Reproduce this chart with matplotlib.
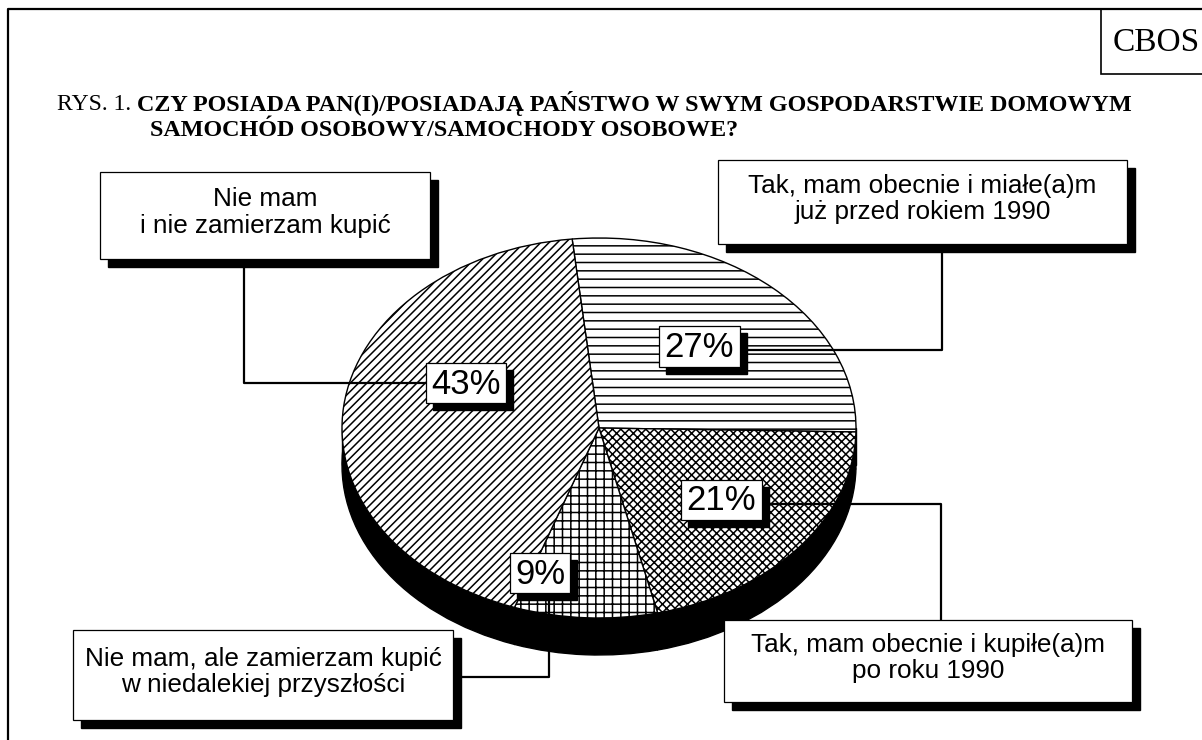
import matplotlib.pyplot as plt
from matplotlib.patches import Rectangle

# dane
answers = ["Tak, mam obecnie i miałe(a)m\njuż przed rokiem 1990",
           "Tak, mam obecnie i kupiłe(a)m\npo roku 1990",
           "Nie mam, ale zamierzam kupić\nw niedalekiej przyszłości",
           "Nie mam\ni nie zamierzam kupić"]
shares = [27, 21, 9, 43]
hatches = ['--', 'xxxx', '++', '////']

title_prefix = "RYS. 1."
title_line1 = "CZY POSIADA PAN(I)/POSIADAJĄ PAŃSTWO W SWYM GOSPODARSTWIE DOMOWYM"
title_line2 = "SAMOCHÓD OSOBOWY/SAMOCHODY OSOBOWE?"

# uklad (piksele): ramki opisow, ramki procentow, linie odniesienia
label_boxes = [(718, 160, 1127, 244), (724, 620, 1132, 702),
               (73, 630, 453, 720), (100, 172, 430, 259)]
pct_boxes = [(659, 326, 740, 367), (681, 480, 762, 520),
             (510, 553, 570, 593), (426, 363, 506, 403)]
leaders = [([942, 942, 740], [250, 350, 350]),
           ([762, 941, 941], [504, 504, 620]),
           ([453, 549, 549], [677, 677, 593]),
           ([244, 244, 426], [259, 383, 383])]

W, H = 1202, 740
fig = plt.figure(figsize=(W / 100, H / 100), dpi=100)
plt.rcParams['hatch.linewidth'] = 1.1

# tort 3D: elipsa
cx, cy, rx, ry = 599, 428, 257, 190
R = 1.2
depth = 37 / ry
ax_pie = fig.add_axes([(cx - R * rx) / W, (H - cy - R * ry) / H,
                       2 * R * rx / W, 2 * R * ry / H])
ax_pie.pie(shares, startangle=96, counterclock=False, colors=['black'] * 4,
           center=(0, -depth), wedgeprops=dict(edgecolor='black', linewidth=1))
ax_pie.add_patch(Rectangle((-1, -depth), 2, depth, color='black'))
wedges, _ = ax_pie.pie(shares, startangle=96, counterclock=False,
                       colors=['white'] * 4,
                       wedgeprops=dict(edgecolor='black', linewidth=1))
for w, h in zip(wedges, hatches):
    w.set_hatch(h)
ax_pie.set_aspect('auto')
ax_pie.set_xlim(-R, R)
ax_pie.set_ylim(-R, R)
ax_pie.axis('off')

# warstwa opisow
ax = fig.add_axes([0, 0, 1, 1])
ax.set_xlim(0, W)
ax.set_ylim(H, 0)
ax.axis('off')
ax.patch.set_alpha(0)

# ramka strony
ax.plot([8, 8, W], [H, 9, 9], color='black', lw=1.6)
ax.add_patch(Rectangle((1101, 9), 110, 65, fc='white', ec='black', lw=1.2))
ax.text(1156, 43, "CBOS", family='Liberation Serif', fontsize=24,
        ha='center', va='center')

ax.text(57, 104, title_prefix, family='Liberation Serif', fontsize=17,
        ha='left', va='center')
ax.text(137, 104, title_line1, family='Liberation Serif', fontsize=17.4,
        weight='bold', ha='left', va='center')
ax.text(150, 130, title_line2, family='Liberation Serif', fontsize=17.4,
        weight='bold', ha='left', va='center')


def shadow_box(x0, y0, x1, y1, off):
    ax.add_patch(Rectangle((x0 + off, y0 + off), x1 - x0, y1 - y0,
                           fc='black', ec='black', zorder=3))
    ax.add_patch(Rectangle((x0, y0), x1 - x0, y1 - y0,
                           fc='white', ec='black', lw=0.9, zorder=4))


for (xs, ys) in leaders:
    ax.plot(xs, ys, color='black', lw=1.6, zorder=2)

for txt, (x0, y0, x1, y1) in zip(answers, label_boxes):
    shadow_box(x0, y0, x1, y1, 8)
    ax.text((x0 + x1) / 2, (y0 + y1) / 2 - 3, txt, family='Liberation Sans',
            fontsize=18.8, ha='center', va='center', linespacing=1.12,
            zorder=5)

for v, (x0, y0, x1, y1) in zip(shares, pct_boxes):
    shadow_box(x0, y0, x1, y1, 7)
    ax.text((x0 + x1) / 2, (y0 + y1) / 2 + 1, f"{v}%",
            family='Liberation Sans', fontsize=25, ha='center', va='center',
            zorder=5)

fig.savefig('out.png', dpi=100)
